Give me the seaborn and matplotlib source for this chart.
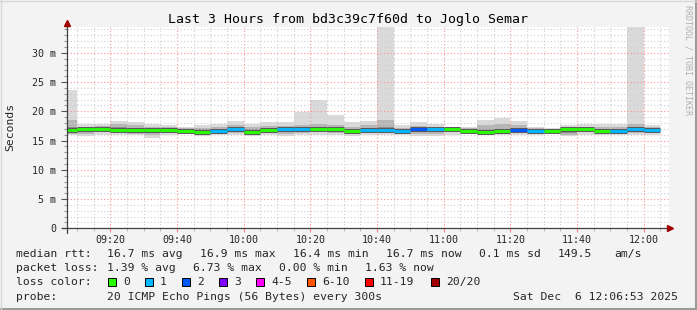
import matplotlib
matplotlib.use("Agg")
import matplotlib.pyplot as plt
import seaborn as sns
import pandas as pd
from matplotlib.patches import Rectangle
from matplotlib.lines import Line2D

W, H = 697, 310

# ---------------- data (ms, minutes after 09:00) ----------------
bar_start = [7] + list(range(10, 181, 5))
bar_width = [3] + [5] * 35

outer_hi = [23.6, 17.8, 17.8, 18.4, 18.2, 17.8, 17.7, 17.4, 17.7, 17.9,
            18.3, 17.8, 18.1, 18.2, 19.9, 21.9, 19.4, 18.1, 18.3, 36.0,
            17.7, 18.1, 17.8, 17.4, 17.4, 18.5, 18.8, 18.3, 17.4, 17.2,
            17.7, 17.8, 17.9, 17.9, 36.0, 17.7]
outer_lo = [15.9, 15.8, 16.0, 16.0, 15.9, 15.5, 15.9, 16.2, 15.8, 15.9,
            15.9, 15.8, 15.9, 15.8, 15.9, 16.0, 15.9, 15.7, 15.9, 15.9,
            15.9, 15.7, 15.7, 16.0, 16.2, 16.0, 15.9, 15.9, 16.0, 16.2,
            15.7, 16.0, 15.9, 16.0, 15.9, 15.9]
mid_hi = [18.5, 17.4, 17.5, 17.8, 17.6, 17.4, 17.3, 17.1, 17.2, 17.4,
          17.6, 17.3, 17.5, 17.5, 17.7, 17.8, 17.6, 17.4, 17.6, 18.5,
          17.2, 17.5, 17.3, 17.2, 17.1, 17.6, 17.8, 17.6, 17.1, 17.0,
          17.3, 17.4, 17.4, 17.4, 17.8, 17.3]
mid_lo = [16.1, 16.2, 16.4, 16.3, 16.2, 16.0, 16.3, 16.3, 16.0, 16.2,
          16.3, 16.1, 16.3, 16.2, 16.3, 16.4, 16.3, 16.1, 16.3, 16.3,
          16.3, 16.2, 16.1, 16.4, 16.4, 16.2, 16.2, 16.3, 16.3, 16.4,
          16.0, 16.4, 16.3, 16.3, 16.3, 16.3]
inner_hi = [17.3, 17.2, 17.2, 17.3, 17.2, 17.2, 17.1, 17.0, 16.9, 17.0,
            17.2, 17.0, 17.2, 17.2, 17.3, 17.3, 17.2, 17.0, 17.2, 17.3,
            17.0, 17.2, 17.1, 17.1, 16.9, 16.9, 17.0, 17.1, 16.9, 17.0,
            17.1, 17.2, 17.0, 17.0, 17.3, 17.1]
inner_lo = [16.4, 16.5, 16.6, 16.5, 16.4, 16.3, 16.5, 16.4, 16.1, 16.3,
            16.5, 16.2, 16.5, 16.5, 16.5, 16.6, 16.5, 16.3, 16.5, 16.5,
            16.4, 16.5, 16.4, 16.6, 16.5, 16.3, 16.4, 16.4, 16.4, 16.5,
            16.3, 16.6, 16.4, 16.4, 16.5, 16.5]
median = [16.8, 16.9, 16.9, 16.8, 16.8, 16.8, 16.8, 16.6, 16.4, 16.6,
          16.9, 16.5, 16.8, 16.9, 16.9, 16.9, 16.9, 16.6, 16.85, 16.8,
          16.7, 16.9, 16.9, 16.9, 16.6, 16.5, 16.6, 16.75, 16.6, 16.7,
          16.9, 16.9, 16.7, 16.6, 16.9, 16.8]
loss_class = ["0", "0", "0", "0", "0", "0", "0", "0", "0", "1",
              "1", "0", "0", "1", "1", "0", "0", "0", "1", "1",
              "1", "2", "1", "0", "0", "0", "0", "2", "1", "0",
              "0", "0", "0", "1", "1", "1"]

loss_labels = ["0", "1", "2", "3", "4-5", "6-10", "11-19", "20/20"]
loss_colors = ["#26ff00", "#00b8ff", "#0059ff", "#7e00ff", "#ff00ff",
               "#ff5500", "#ff0000", "#a10000"]
loss_box_x = [108, 145, 182, 219, 256, 307, 365, 431]

x_ticks = [20, 40, 60, 80, 100, 120, 140, 160, 180]
x_tick_labels = ["09:20", "09:40", "10:00", "10:20", "10:40", "11:00",
                 "11:20", "11:40", "12:00"]
y_ticks = [0, 5, 10, 15, 20, 25, 30]
y_tick_labels = ["0", "5 m", "10 m", "15 m", "20 m", "25 m", "30 m"]

df = pd.DataFrame(dict(start=bar_start, width=bar_width, outer_hi=outer_hi,
                       outer_lo=outer_lo, mid_hi=mid_hi, mid_lo=mid_lo,
                       inner_hi=inner_hi, inner_lo=inner_lo, median=median,
                       loss=loss_class))
cmap = dict(zip(loss_labels, loss_colors))
df["color"] = df["loss"].map(cmap)
df["end"] = df["start"] + df["width"]

# ---------------- figure ----------------
sns.set_theme(style="white")
plt.rcParams['font.family'] = ['DejaVu Sans Mono', 'DejaVu Sans']
BG = "#f3f3f3"
fig = plt.figure(figsize=(W / 100, H / 100), dpi=100, facecolor=BG)

def fx(x):
    return x / W

def fy(y):
    return 1 - y / H

ax_l, ax_r, ax_t, ax_b = 67, 669, 26.5, 228.3
ax = fig.add_axes([fx(ax_l), fy(ax_b), (ax_r - ax_l) / W, (ax_b - ax_t) / H])
ax.set_facecolor("white")

for lo_col, hi_col, colr in [("outer_lo", "outer_hi", "#dadada"),
                             ("mid_lo", "mid_hi", "#b6b6b6"),
                             ("inner_lo", "inner_hi", "#8c8c8c")]:
    ax.bar(df["start"], df[hi_col] - df[lo_col], bottom=df[lo_col],
           width=df["width"], align="edge", color=colr, linewidth=0, zorder=1)

ax.hlines(df["median"], df["start"], df["end"], colors="#555555",
          linewidth=3.5, zorder=3)
ax.hlines(df["median"], df["start"], df["end"], colors=df["color"],
          linewidth=2.1, zorder=4)

ax.set_xlim(7, 187.6)
ax.set_ylim(0, 34.5)

ax.set_xticks(x_ticks)
ax.set_xticklabels(x_tick_labels, fontsize=7.2)
ax.set_xticks([t for t in range(10, 186, 5) if t not in x_ticks], minor=True)
ax.set_yticks(y_ticks)
ax.set_yticklabels(y_tick_labels, fontsize=7.2)
ax.set_yticks([v for v in range(1, 35) if v % 5], minor=True)

ax.tick_params(axis="x", which="major", length=3, width=0.8, color="#ff8080",
               pad=2, direction="out", bottom=True)
ax.tick_params(axis="x", which="minor", length=2, width=0.8, color="#bbbbbb",
               direction="out", bottom=True)
ax.tick_params(axis="y", which="major", length=4, width=0.8, color="#555555",
               pad=4, direction="out", left=True)
ax.tick_params(axis="y", which="minor", length=2, width=0.8, color="#999999",
               direction="out", left=True)

ax.set_axisbelow(False)
ax.grid(which="major", color="#ff9090", linestyle=(0, (1, 2)), linewidth=0.8)
ax.grid(which="minor", color="#cfcfcf", linestyle=(0, (1, 2)), linewidth=0.8)
for sp in ax.spines.values():
    sp.set_visible(False)

# axis lines with arrows
fig.add_artist(Line2D([fx(62), fx(668)], [fy(228.3), fy(228.3)],
                      color="#404040", linewidth=0.9, zorder=10))
fig.add_artist(Line2D([fx(67), fx(67)], [fy(233), fy(24)],
                      color="#404040", linewidth=0.9, zorder=10))
fig.add_artist(Line2D([fx(67)], [fy(23.3)], marker="^", markersize=5,
                      color="#a00000", linewidth=0, zorder=11))
fig.add_artist(Line2D([fx(670)], [fy(228.3)], marker=">", markersize=5,
                      color="#a00000", linewidth=0, zorder=11))

# titles
fig.text(fx(348), fy(19), "Last 3 Hours from bd3c39c7f60d to Joglo Semar",
         ha="center", va="center", fontsize=9.5, color="black")
fig.text(fx(10), fy(127), "Seconds", rotation=90, ha="center", va="center",
         fontsize=8.2)
fig.text(fx(688), fy(60), "RRDTOOL / TOBI OETIKER", rotation=270,
         ha="center", va="center", fontsize=6, color="#b0b0b0")

# legend rows
FS = 8.2
rows = [
    (254, [(16, "median rtt:"), (107, "16.7 ms avg"), (200, "16.9 ms max"),
           (293, "16.4 ms min"), (386, "16.7 ms now"), (479, "0.1 ms sd"),
           (558, "149.5"), (614, "am/s")]),
    (268, [(16, "packet loss:"), (107, "1.39 % avg"), (193, "6.73 % max"),
           (279, "0.00 % min"), (365, "1.63 % now")]),
    (282, [(16, "loss color:")]),
    (296.5, [(16, "probe:"), (107, "20 ICMP Echo Pings (56 Bytes) every 300s"),
             (513, "Sat Dec  6 12:06:53 2025")]),
]
for yy, items in rows:
    for xx, s in items:
        fig.text(fx(xx), fy(yy), s, ha="left", va="center", fontsize=FS)

for bx, lab, colr in zip(loss_box_x, loss_labels, loss_colors):
    fig.add_artist(Rectangle((fx(bx), fy(286)), 8 / W, 8 / H,
                             facecolor=colr, edgecolor="black", linewidth=0.7,
                             transform=fig.transFigure))
    fig.text(fx(bx + 15), fy(282), lab, ha="left", va="center", fontsize=FS)

# frame
fig.add_artist(Line2D([0, 1], [fy(309), fy(309)], color="#9a9a9a", linewidth=1.5))
fig.add_artist(Line2D([fx(696), fx(696)], [0, 1], color="#9a9a9a", linewidth=1.5))
fig.add_artist(Line2D([0, 1], [fy(0.5), fy(0.5)], color="#d8d8d8", linewidth=1))
fig.add_artist(Line2D([fx(0.5), fx(0.5)], [0, 1], color="#d8d8d8", linewidth=1))

fig.savefig("out.png", dpi=100, facecolor=BG)
